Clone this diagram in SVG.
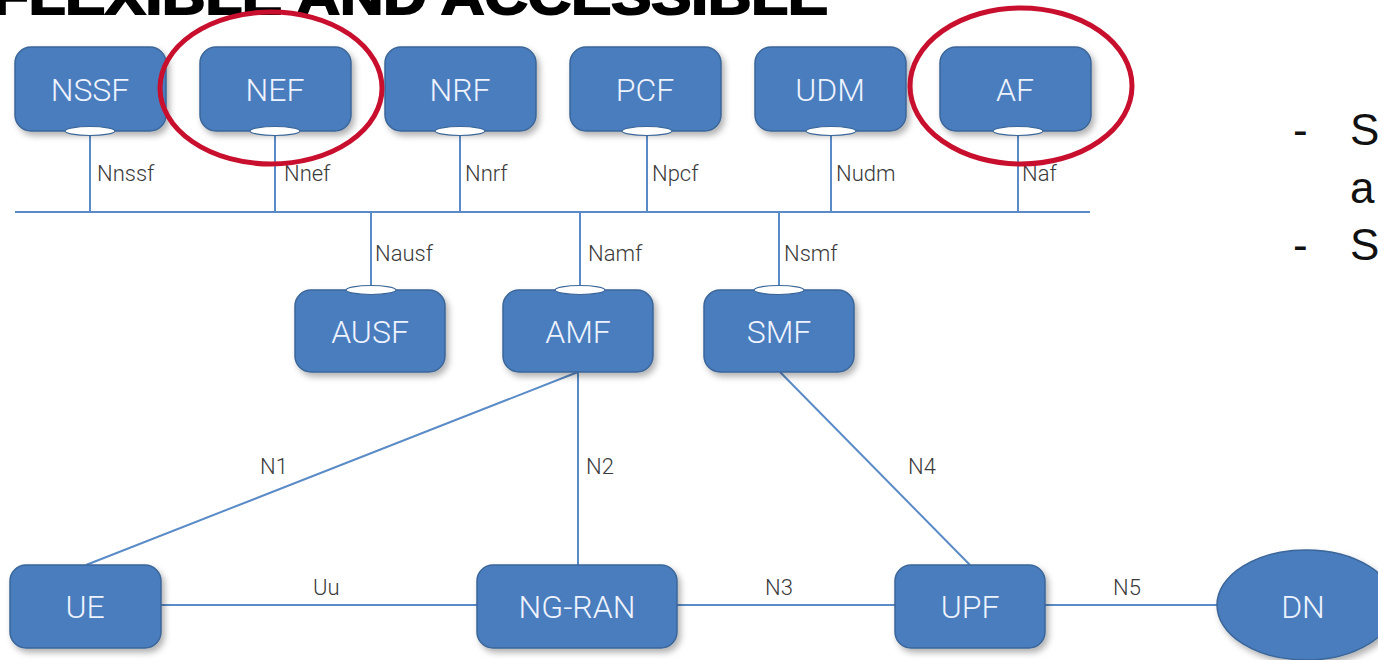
<svg xmlns="http://www.w3.org/2000/svg" width="1378" height="660" viewBox="0 0 1378 660">
<style>
.box{fill:#4a7dbd;stroke:#3b6699;stroke-width:1.5}
.nt{font-family:Roboto,"Liberation Sans",sans-serif;font-size:32px;fill:#eef3ff;text-anchor:middle;font-weight:300}
.lbl{font-family:Roboto,"Liberation Sans",sans-serif;font-size:22px;fill:#3a3a3a;font-weight:300}
.ln{stroke:#5a8bc7;stroke-width:2;fill:none}
.port{fill:#ffffff;stroke:#3b6699;stroke-width:1.2}
.ring{fill:none;stroke:#c8102e;stroke-width:5}
.side{font-family:"Liberation Sans",sans-serif;font-size:44px;fill:#111}
</style>
<defs>
<filter id="sh" x="-10%" y="-10%" width="130%" height="140%">
<feDropShadow dx="3" dy="4" stdDeviation="3" flood-color="#000" flood-opacity="0.3"/>
</filter>
</defs>
<rect width="1378" height="660" fill="#ffffff"/>
<text x="-8" y="14" font-family="Liberation Sans, sans-serif" font-weight="bold" font-size="52" fill="#000" stroke="#000" stroke-width="2" textLength="836" lengthAdjust="spacingAndGlyphs">FLEXIBLE AND ACCESSIBLE</text>
<g id="side-text">
<text class="side" x="1293" y="145">-</text>
<text class="side" x="1350" y="145">S</text>
<text class="side" x="1350" y="203">a</text>
<text class="side" x="1293" y="260">-</text>
<text class="side" x="1350" y="260">S</text>
</g>
<g id="connectors">
<line class="ln" x1="15" y1="212" x2="1090" y2="212"/>
<line class="ln" x1="90" y1="131" x2="90" y2="212"/>
<line class="ln" x1="275" y1="131" x2="275" y2="212"/>
<line class="ln" x1="460" y1="131" x2="460" y2="212"/>
<line class="ln" x1="647" y1="131" x2="647" y2="212"/>
<line class="ln" x1="831" y1="131" x2="831" y2="212"/>
<line class="ln" x1="1018" y1="131" x2="1018" y2="212"/>
<line class="ln" x1="371" y1="212" x2="371" y2="290"/>
<line class="ln" x1="580" y1="212" x2="580" y2="290"/>
<line class="ln" x1="779" y1="212" x2="779" y2="290"/>
<line class="ln" x1="578" y1="372" x2="86" y2="565"/>
<line class="ln" x1="578" y1="372" x2="578" y2="565"/>
<line class="ln" x1="780" y1="372" x2="970" y2="565"/>
<line class="ln" x1="160" y1="605" x2="477" y2="605"/>
<line class="ln" x1="677" y1="605" x2="895" y2="605"/>
<line class="ln" x1="1045" y1="605" x2="1218" y2="605"/>
<text class="lbl" x="97" y="181">Nnssf</text>
<text class="lbl" x="284" y="181">Nnef</text>
<text class="lbl" x="465" y="181">Nnrf</text>
<text class="lbl" x="652" y="181">Npcf</text>
<text class="lbl" x="836" y="181">Nudm</text>
<text class="lbl" x="1022" y="181">Naf</text>
<text class="lbl" x="375" y="261">Nausf</text>
<text class="lbl" x="588" y="261">Namf</text>
<text class="lbl" x="784" y="261">Nsmf</text>
<text class="lbl" x="260" y="474">N1</text>
<text class="lbl" x="586" y="474">N2</text>
<text class="lbl" x="908" y="474">N4</text>
<text class="lbl" x="313" y="595">Uu</text>
<text class="lbl" x="765" y="595">N3</text>
<text class="lbl" x="1113" y="595">N5</text>
</g>
<g id="NSSF"><rect class="box" filter="url(#sh)" x="15" y="47" width="151" height="84" rx="16"/><text class="nt" x="90" y="101">NSSF</text><ellipse class="port" cx="90" cy="131" rx="25" ry="4.5"/></g>
<g id="NEF"><rect class="box" filter="url(#sh)" x="200" y="47" width="151" height="84" rx="16"/><text class="nt" x="275" y="101">NEF</text><ellipse class="port" cx="275" cy="131" rx="25" ry="4.5"/></g>
<g id="NRF"><rect class="box" filter="url(#sh)" x="385" y="47" width="151" height="84" rx="16"/><text class="nt" x="460" y="101">NRF</text><ellipse class="port" cx="460" cy="131" rx="25" ry="4.5"/></g>
<g id="PCF"><rect class="box" filter="url(#sh)" x="570" y="47" width="151" height="84" rx="16"/><text class="nt" x="645" y="101">PCF</text><ellipse class="port" cx="647" cy="131" rx="25" ry="4.5"/></g>
<g id="UDM"><rect class="box" filter="url(#sh)" x="755" y="47" width="151" height="84" rx="16"/><text class="nt" x="830" y="101">UDM</text><ellipse class="port" cx="831" cy="131" rx="25" ry="4.5"/></g>
<g id="AF"><rect class="box" filter="url(#sh)" x="940" y="47" width="151" height="84" rx="16"/><text class="nt" x="1015" y="101">AF</text><ellipse class="port" cx="1018" cy="131" rx="25" ry="4.5"/></g>
<g id="AUSF"><rect class="box" filter="url(#sh)" x="295" y="290" width="150" height="82" rx="16"/><text class="nt" x="370" y="343">AUSF</text><ellipse class="port" cx="371" cy="290" rx="25" ry="4.5"/></g>
<g id="AMF"><rect class="box" filter="url(#sh)" x="503" y="290" width="150" height="82" rx="16"/><text class="nt" x="578" y="343">AMF</text><ellipse class="port" cx="580" cy="290" rx="25" ry="4.5"/></g>
<g id="SMF"><rect class="box" filter="url(#sh)" x="704" y="290" width="150" height="82" rx="16"/><text class="nt" x="779" y="343">SMF</text><ellipse class="port" cx="779" cy="290" rx="25" ry="4.5"/></g>
<g id="UE"><rect class="box" filter="url(#sh)" x="10" y="565" width="151" height="83" rx="16"/><text class="nt" x="85" y="618">UE</text></g>
<g id="NG-RAN"><rect class="box" filter="url(#sh)" x="477" y="565" width="200" height="83" rx="16"/><text class="nt" x="577" y="618">NG-RAN</text></g>
<g id="UPF"><rect class="box" filter="url(#sh)" x="895" y="565" width="150" height="83" rx="16"/><text class="nt" x="970" y="618">UPF</text></g>
<g id="DN"><ellipse class="box" filter="url(#sh)" cx="1306" cy="605" rx="89" ry="55"/><text class="nt" x="1303" y="618">DN</text></g>
<g id="highlights">
<ellipse class="ring" cx="271" cy="88" rx="111" ry="76"/>
<ellipse class="ring" cx="1021" cy="86" rx="111" ry="78"/>
</g>
</svg>
